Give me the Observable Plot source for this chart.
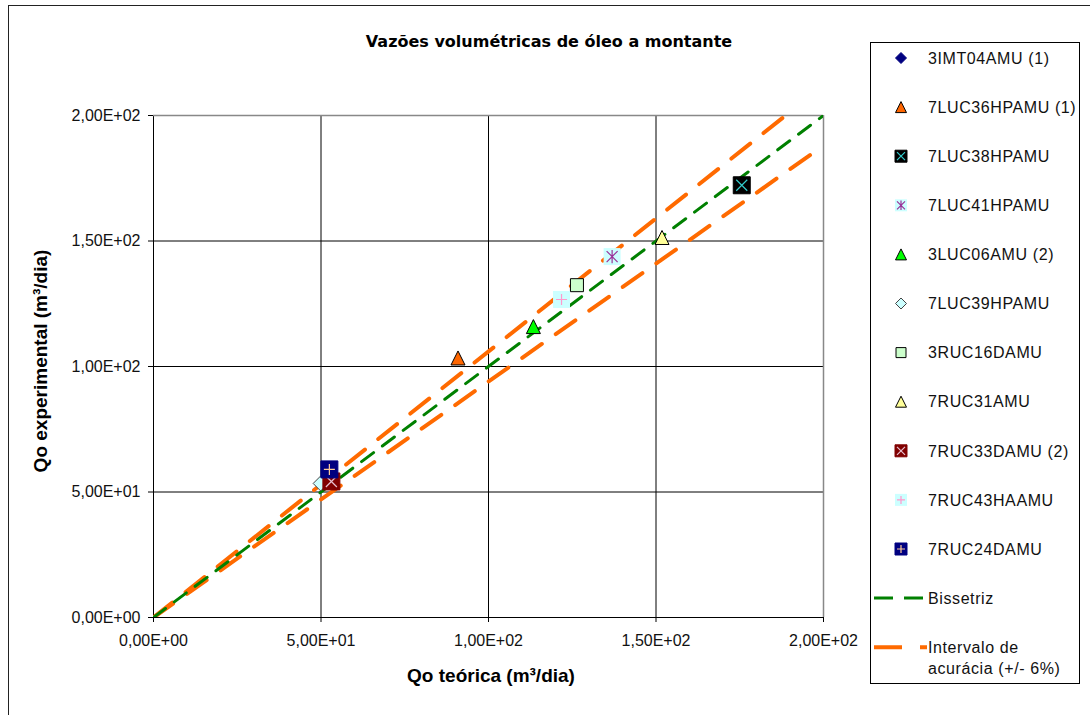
<!DOCTYPE html>
<html>
<head>
<meta charset="utf-8">
<script src="https://cdn.jsdelivr.net/npm/d3@7"></script>
<script src="https://cdn.jsdelivr.net/npm/@observablehq/plot@0.6"></script>
<style>
  body { margin: 0; background: #fff; }
  #wrap { position: relative; width: 1090px; height: 715px; overflow: hidden; background: #fff;
          font-family: "Liberation Sans", Arial, sans-serif; }
  #frame { position: absolute; left: 8px; top: 5px; width: 1200px; height: 900px;
           border-left: 1px solid #222; border-top: 1px solid #222; }
  #chart { position: absolute; left: 0; top: 0; }
  #title { position: absolute; left: 549px; top: 41px; transform: translate(-50%, -50%);
           white-space: nowrap; font-family: "DejaVu Sans", Verdana, sans-serif; font-weight: bold; font-size: 16px; color: #000; }
  #ylab { position: absolute; left: 41px; top: 361px; transform: translate(-50%, -50%) rotate(-90deg);
          white-space: nowrap; font-weight: bold; font-size: 19px; color: #000; }
  #xlab { position: absolute; left: 491px; top: 676px; transform: translate(-50%, -50%);
          white-space: nowrap; font-weight: bold; font-size: 19px; color: #000; }
  #legend { position: absolute; left: 870px; top: 42px; width: 208px; height: 640px;
            border: 1px solid #000; background: #fff; }
</style>
</head>
<body>
<div id="wrap">
  <div id="frame"></div>
  <div id="chart"></div>
  <div id="title">Vazões volumétricas de óleo a montante</div>
  <div id="ylab">Qo experimental (m³/dia)</div>
  <div id="xlab">Qo teórica (m³/dia)</div>
  <div id="legend"></div>
</div>
<script>
// ---------- DATA ----------
const seriesNames = [
  "3IMT04AMU (1)", "7LUC36HPAMU (1)", "7LUC38HPAMU", "7LUC41HPAMU", "3LUC06AMU (2)",
  "7LUC39HPAMU", "3RUC16DAMU", "7RUC31AMU", "7RUC33DAMU (2)", "7RUC43HAAMU", "7RUC24DAMU"
];
const qoTeorica =      [52.6, 90.9, 175.6, 136.9, 113.4, 49.9, 126.4, 151.8, 53.1, 121.8, 52.5];
const qoExperimental = [58.6, 103.4, 172.2, 143.8, 115.9, 53.4, 132.4, 151.4, 54.2, 126.7, 59.0];

const lineNames = ["Bissetriz", "Intervalo de acurácia (+/- 6%)"];
const lineX      = [0, 200];
const bissetrizY = [0, 200];
const upperY     = [0, 212];
const lowerY     = [0, 188];

const xTicks = [0, 50, 100, 150, 200];
const xTickLabels = ["0,00E+00", "5,00E+01", "1,00E+02", "1,50E+02", "2,00E+02"];
const yTicks = [0, 50, 100, 150, 200];
const yTickLabels = ["0,00E+00", "5,00E+01", "1,00E+02", "1,50E+02", "2,00E+02"];

// ---------- MARKER GLYPHS ----------
const rOf = s => Math.sqrt(s / Math.PI);
const glyph = {
  square:   { draw(c, s) { const r = rOf(s); c.rect(-r, -r, 2 * r, 2 * r); } },
  triangle: { draw(c, s) { const r = rOf(s); c.moveTo(0, -r); c.lineTo(r, r); c.lineTo(-r, r); c.closePath(); } },
  diamond:  { draw(c, s) { const r = rOf(s); c.moveTo(0, -r); c.lineTo(r, 0); c.lineTo(0, r); c.lineTo(-r, 0); c.closePath(); } },
  times:    { draw(c, s) { const r = rOf(s); c.moveTo(-r, -r); c.lineTo(r, r); c.moveTo(r, -r); c.lineTo(-r, r); } },
  plus:     { draw(c, s) { const r = rOf(s); c.moveTo(-r, 0); c.lineTo(r, 0); c.moveTo(0, -r); c.lineTo(0, r); } },
  asterisk: { draw(c, s) { const r = rOf(s); c.moveTo(-r, -r); c.lineTo(r, r); c.moveTo(r, -r); c.lineTo(-r, r); c.moveTo(0, -r * 1.2); c.lineTo(0, r * 1.2); } }
};

// styles: shape, fill, stroke, chart size, legend size, inner glyph, inner colour
const styles = {
  "3IMT04AMU (1)":   { shape: "diamond",  fill: "#000080", stroke: "#000080", r: 6.5, lr: 5.5 },
  "7LUC36HPAMU (1)": { shape: "triangle", fill: "#ff6600", stroke: "#000", r: 7, lr: 5.5 },
  "7LUC38HPAMU":     { shape: "square",   fill: "#000", stroke: "#000", r: 8.5, lr: 6, inner: "times", innerColor: "#33cccc" },
  "7LUC41HPAMU":     { shape: "square",   fill: "#ccffff", stroke: "none", r: 8.5, lr: 6, inner: "asterisk", innerColor: "#993399" },
  "3LUC06AMU (2)":   { shape: "triangle", fill: "#00ff00", stroke: "#000", r: 7, lr: 5.5 },
  "7LUC39HPAMU":     { shape: "diamond",  fill: "#ccffff", stroke: "#444", r: 7.5, lr: 5.5 },
  "3RUC16DAMU":      { shape: "square",   fill: "#ccffcc", stroke: "#000", r: 6.5, lr: 5 },
  "7RUC31AMU":       { shape: "triangle", fill: "#ffff99", stroke: "#000", r: 7, lr: 5.5 },
  "7RUC33DAMU (2)":  { shape: "square",   fill: "#800000", stroke: "#800000", r: 8.5, lr: 6, inner: "times", innerColor: "#e8c0d0" },
  "7RUC43HAAMU":     { shape: "square",   fill: "#ccffff", stroke: "none", r: 8.5, lr: 6, inner: "plus", innerColor: "#ff99cc" },
  "7RUC24DAMU":      { shape: "square",   fill: "#000080", stroke: "#000080", r: 8.5, lr: 6, inner: "plus", innerColor: "#ffcc99" }
};
const bisColor = "#008000";
const accColor = "#ff6a00";

// ---------- PLOT ----------
const points = seriesNames.map((name, i) => ({ name, x: qoTeorica[i], y: qoExperimental[i] }));
const bisData = lineX.map((x, i) => ({ x, y: bissetrizY[i] }));
const upData  = lineX.map((x, i) => ({ x, y: upperY[i] }));
const loData  = lineX.map((x, i) => ({ x, y: lowerY[i] }));

const xLab = new Map(xTicks.map((t, i) => [t, xTickLabels[i]]));
const yLab = new Map(yTicks.map((t, i) => [t, yTickLabels[i]]));

const pointMarks = [];
for (const p of points) {
  const st = styles[p.name];
  pointMarks.push(Plot.dot([p], { x: "x", y: "y", symbol: glyph[st.shape], r: st.r,
    fill: st.fill, stroke: st.stroke, strokeWidth: 1 }));
  if (st.inner) {
    pointMarks.push(Plot.dot([p], { x: "x", y: "y", symbol: glyph[st.inner], r: st.r - 3,
      fill: "none", stroke: st.innerColor, strokeWidth: 1.2 }));
  }
}

const chart = Plot.plot({
  width: 1090,
  height: 715,
  marginLeft: 153,
  marginRight: 267,
  marginTop: 115,
  marginBottom: 98,
  style: { fontFamily: "'Liberation Sans', Arial, sans-serif", fontSize: "16px", color: "#111", background: "transparent" },
  x: { domain: [0, 200] },
  y: { domain: [0, 200] },
  marks: [
    Plot.ruleX(xTicks.slice(0, 4), { stroke: "#000", strokeWidth: 1 }),
    Plot.ruleY(yTicks.slice(0, 4), { stroke: "#000", strokeWidth: 1 }),
    Plot.ruleX(xTicks.slice(4), { stroke: "#888", strokeWidth: 1.5 }),
    Plot.ruleY(yTicks.slice(4), { stroke: "#888", strokeWidth: 1.5 }),
    Plot.axisX({ ticks: xTicks, tickFormat: d => xLab.get(d), tickSize: 5, tickPadding: 12, label: null, stroke: "#000" }),
    Plot.axisY({ ticks: yTicks, tickFormat: d => yLab.get(d), tickSize: 5, tickPadding: 8, label: null, stroke: "#000" }),
    Plot.line(upData, { x: "x", y: "y", stroke: accColor, strokeWidth: 4, strokeDasharray: "24,17", clip: true }),
    Plot.line(loData, { x: "x", y: "y", stroke: accColor, strokeWidth: 4, strokeDasharray: "24,17", clip: true }),
    Plot.line(bisData, { x: "x", y: "y", stroke: bisColor, strokeWidth: 3, strokeDasharray: "15,11", clip: true }),
    ...pointMarks
  ]
});
document.getElementById("chart").appendChild(chart);

// ---------- LEGEND ----------
const lg = d3.select("#legend").append("svg")
  .attr("width", 208).attr("height", 640)
  .style("font-family", "'Liberation Sans', Arial, sans-serif")
  .style("font-size", "16px")
  .style("letter-spacing", "0.6px");
const rowY = i => 15 + i * 49.1;
const mx = 30, tx = 57;
seriesNames.forEach((name, i) => {
  const st = styles[name];
  const g = lg.append("g").attr("transform", `translate(${mx},${rowY(i)})`);
  g.append("path").attr("d", d3.symbol().type(glyph[st.shape]).size(Math.PI * st.lr * st.lr)())
    .attr("fill", st.fill).attr("stroke", st.stroke);
  if (st.inner) {
    g.append("path").attr("d", d3.symbol().type(glyph[st.inner]).size(Math.PI * (st.lr - 2) * (st.lr - 2))())
      .attr("fill", "none").attr("stroke", st.innerColor).attr("stroke-width", 1.2);
  }
  lg.append("text").attr("x", tx).attr("y", rowY(i) + 5.7).attr("fill", "#111").text(name);
});
// line entries
const i1 = seriesNames.length, i2 = seriesNames.length + 1;
lg.append("line").attr("x1", 3).attr("x2", 52).attr("y1", rowY(i1)).attr("y2", rowY(i1))
  .attr("stroke", bisColor).attr("stroke-width", 3).attr("stroke-dasharray", "19,11");
lg.append("text").attr("x", tx).attr("y", rowY(i1) + 5.7).attr("fill", "#111").text(lineNames[0]);
lg.append("line").attr("x1", 3).attr("x2", 56).attr("y1", rowY(i2)).attr("y2", rowY(i2))
  .attr("stroke", accColor).attr("stroke-width", 4).attr("stroke-dasharray", "28,18");
const words = lineNames[1].split(" ");
const t2 = lg.append("text").attr("x", tx).attr("y", rowY(i2) + 5.7).attr("fill", "#111");
t2.append("tspan").attr("x", tx).text(words.slice(0, 2).join(" "));
t2.append("tspan").attr("x", tx).attr("dy", 21).text(words.slice(2).join(" "));
</script>
</body>
</html>
